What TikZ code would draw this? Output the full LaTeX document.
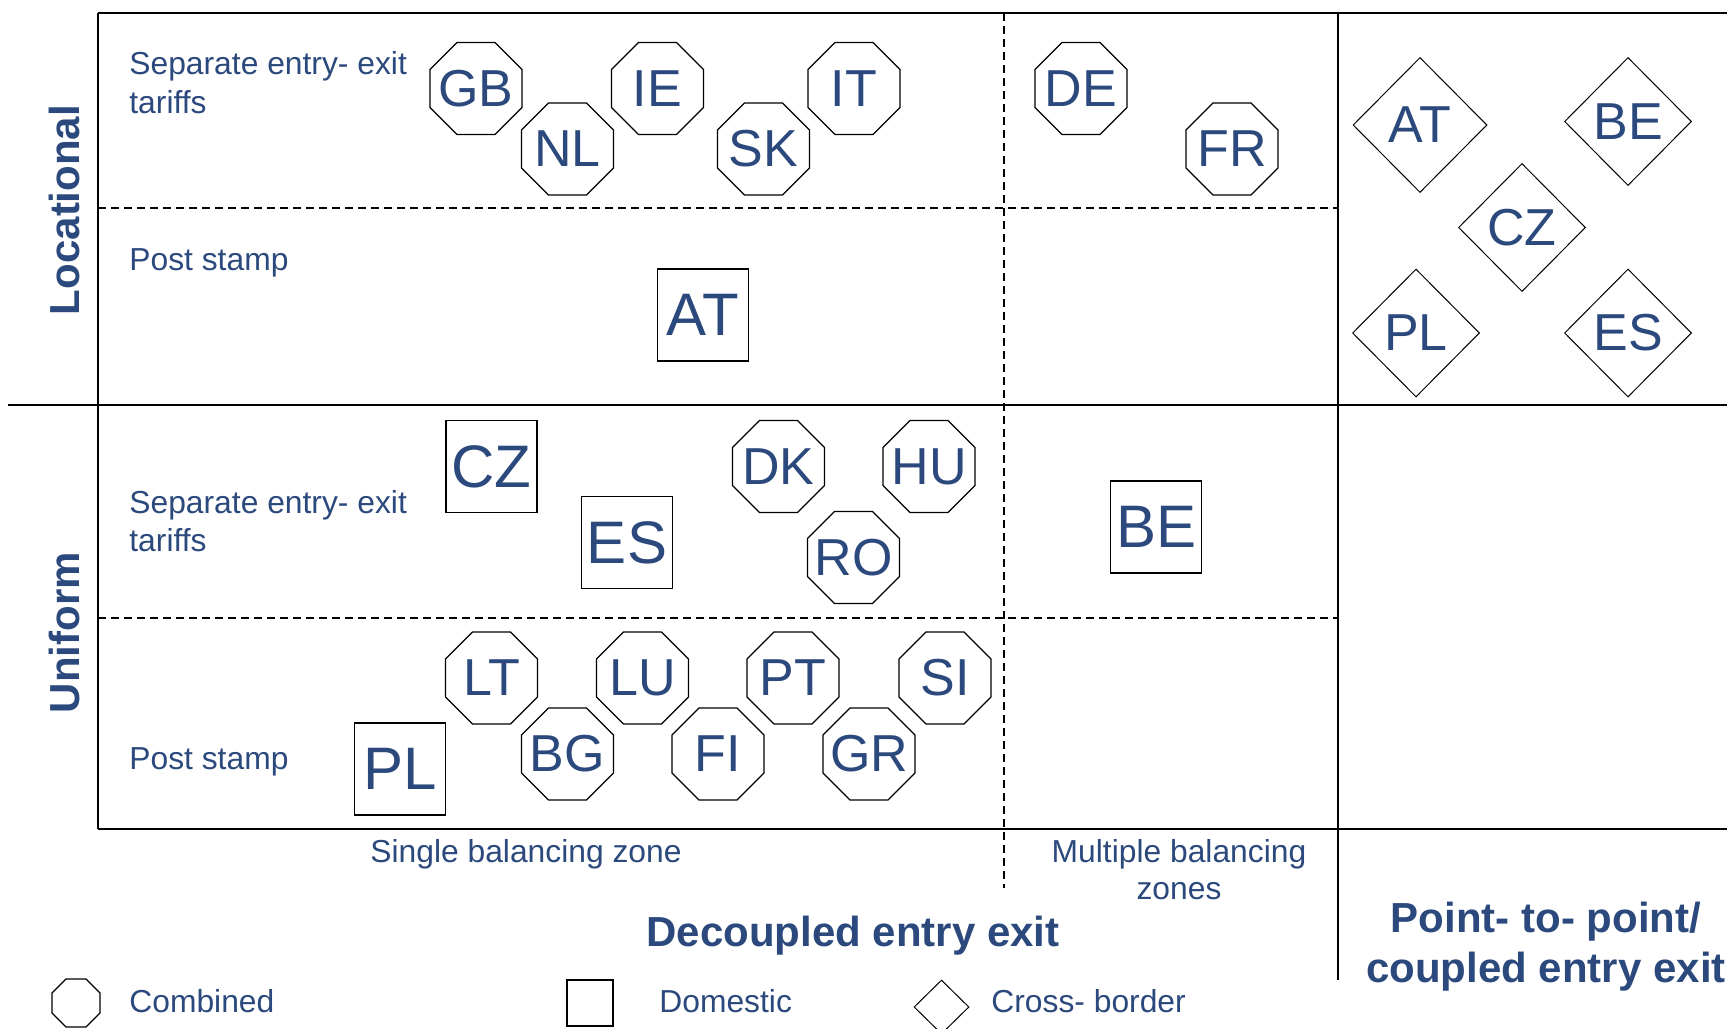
\documentclass[tikz,border=0pt]{standalone}
\usepackage{fontspec}
\setmainfont{Liberation Sans}
\usetikzlibrary{shapes.geometric}
\definecolor{navy}{RGB}{43,73,124}

% country code set in a zero-width box, so every shape keeps one fixed size
\newcommand{\ctry}[1]{\makebox[0pt]{#1}}

\begin{document}
\begin{tikzpicture}[x=0.5pt,y=-0.5pt,
  lbl/.style={text=navy, font=\fontsize{15.9}{19}\selectfont, inner sep=0},
  axislbl/.style={text=navy, font=\fontsize{21}{26}\selectfont\bfseries, inner sep=0},
  oct/.style={draw, regular polygon, regular polygon sides=8, minimum size=49.8pt,
    inner sep=0, text=navy, font=\fontsize{26}{26}\selectfont, line width=0.6pt},
  sq/.style={draw, rectangle, minimum width=45.5pt, minimum height=46pt,
    inner sep=0, text=navy, font=\fontsize{30}{30}\selectfont, line width=0.7pt},
  dia/.style={draw, diamond, minimum width=63.5pt, minimum height=64pt,
    inner sep=0, text=navy, font=\fontsize{26}{26}\selectfont, line width=0.5pt},
  frameline/.style={line width=1pt},
  divider/.style={line width=0.75pt},
  griddash/.style={line width=0.6pt, dash pattern=on 4pt off 2.5pt},
]
\useasboundingbox (0,0) rectangle (1727,1028);

% grid
\draw[frameline] (98,13) -- (1727,13);
\draw[frameline] (8,405) -- (1727,405);
\draw[frameline] (98,829) -- (1727,829);
\draw[divider] (98,13) -- (98,829);
\draw[divider] (1338,13) -- (1338,980);
\draw[griddash] (1004,13) -- (1004,888);
\draw[griddash] (98,208) -- (1338,208);
\draw[griddash] (98,618) -- (1338,618);

% row axis labels
\node[axislbl, rotate=90] (locational) at (64,210) {Locational};
\node[axislbl, rotate=90] (uniform) at (64.5,632.5) {Uniform};

% row sub-labels
\node[lbl, anchor=base west] (locSep1) at (129,74) {Separate entry- exit};
\node[lbl, anchor=base west] (locSep2) at (129,113) {tariffs};
\node[lbl, anchor=base west] (locPost) at (129,270) {Post stamp};
\node[lbl, anchor=base west] (uniSep1) at (129,513) {Separate entry- exit};
\node[lbl, anchor=base west] (uniSep2) at (129,551) {tariffs};
\node[lbl, anchor=base west] (uniPost) at (129,769) {Post stamp};

% column labels
\node[lbl, anchor=base] (single) at (526,862) {Single balancing zone};
\node[lbl, anchor=base] (multi1) at (1179,862) {Multiple balancing};
\node[lbl, anchor=base] (multi2) at (1179,899) {zones};
\node[axislbl, anchor=base] (decoupled) at (853,946) {Decoupled entry exit};
\node[axislbl, anchor=base] (p2p1) at (1546,932) {Point- to- point/};
\node[axislbl, anchor=base] (p2p2) at (1546,982) {coupled entry exit};

% locational, separate entry-exit tariffs
\node[oct] (lsGB) at (476,88.5) {\ctry{GB}};
\node[oct] (lsNL) at (567.5,149) {\ctry{NL}};
\node[oct] (lsIE) at (657.5,88.5) {\ctry{IE}};
\node[oct] (lsSK) at (763.5,149) {\ctry{SK}};
\node[oct] (lsIT) at (854,88.5) {\ctry{IT}};
\node[oct] (lsDE) at (1081,88.5) {\ctry{DE}};
\node[oct] (lsFR) at (1232,149) {\ctry{FR}};

% locational, post stamp
\node[sq] (lpAT) at (703,315) {\ctry{AT}};

% point-to-point
\node[dia, minimum width=67pt, minimum height=67.5pt] (xAT) at (1420,125) {\ctry{AT}};
\node[dia] (xBE) at (1628,121.5) {\ctry{BE}};
\node[dia] (xCZ) at (1522,227.5) {\ctry{CZ}};
\node[dia] (xPL) at (1416,333) {\ctry{PL}};
\node[dia] (xES) at (1628,333) {\ctry{ES}};

% uniform, separate entry-exit tariffs
\node[sq] (usCZ) at (491.5,466.5) {\ctry{CZ}};
\node[sq] (usES) at (627,542.5) {\ctry{ES}};
\node[oct] (usDK) at (778.5,466.5) {\ctry{DK}};
\node[oct] (usHU) at (929,466.5) {\ctry{HU}};
\node[oct] (usRO) at (853.5,557.5) {\ctry{RO}};
\node[sq] (umBE) at (1156,527) {\ctry{BE}};

% uniform, post stamp
\node[oct] (upLT) at (491.5,678) {\ctry{LT}};
\node[oct] (upLU) at (642.5,678) {\ctry{LU}};
\node[oct] (upPT) at (793,678) {\ctry{PT}};
\node[oct] (upSI) at (945,678) {\ctry{SI}};
\node[oct] (upBG) at (567.5,754) {\ctry{BG}};
\node[oct] (upFI) at (718,754) {\ctry{FI}};
\node[oct] (upGR) at (869,754) {\ctry{GR}};
\node[sq] (upPL) at (400,769) {\ctry{PL}};

% legend
\node[oct, minimum size=26pt] (keyOct) at (76,1003) {};
\node[lbl, anchor=base west] (keyComb) at (129,1012) {Combined};
\node[sq, minimum width=23pt, minimum height=23pt] (keySq) at (590,1003) {};
\node[lbl, anchor=base west] (keyDom) at (659,1012) {Domestic};
\node[dia, minimum width=27.5pt, minimum height=27pt] (keyDia) at (941.5,1007) {};
\node[lbl, anchor=base west] (keyCross) at (991,1012) {Cross- border};
\end{tikzpicture}
\end{document}
